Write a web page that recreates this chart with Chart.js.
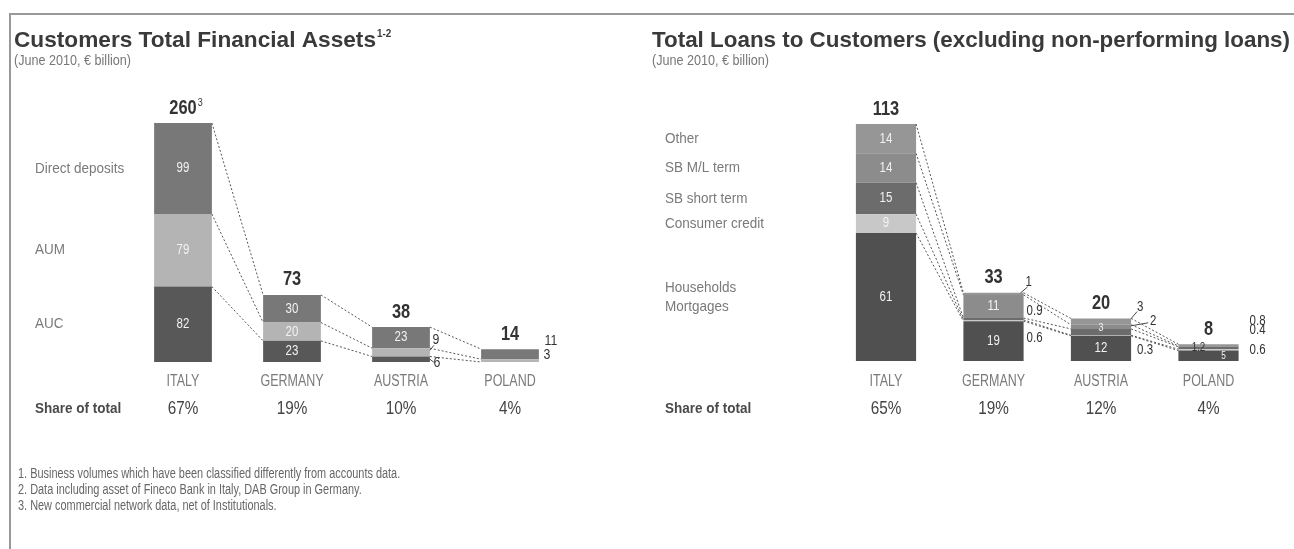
<!DOCTYPE html>
<html>
<head>
<meta charset="utf-8">
<script src="https://cdn.jsdelivr.net/npm/chart.js@4.4.1/dist/chart.umd.min.js"></script>
<style>
  html, body { margin: 0; padding: 0; background: #fff; }
  #page { position: relative; width: 1294px; height: 549px; overflow: hidden; }
  #frame { position: absolute; left: 9px; top: 13px; width: 1400px; height: 700px;
           border-left: 2px solid #999; border-top: 2px solid #999; }
  #left { position: absolute; left: 0; top: 0; }
  #right { position: absolute; left: 640px; top: 0; }
</style>
</head>
<body>
<div id="page">
  <div id="frame"></div>
  <canvas id="left" width="640" height="549"></canvas>
  <canvas id="right" width="654" height="549"></canvas>
</div>
<script>
// countries shared by both panels
const countries = ['ITALY', 'GERMANY', 'AUSTRIA', 'POLAND'];

// financial assets, € billion (bottom to top of each stack)
const auc = [82, 23, 6, 0];
const aum = [79, 20, 9, 3];
const directDeposits = [99, 30, 23, 11];
const assetShare = ['67%', '19%', '10%', '4%'];
const assetTotalNotes = ['3', '', '', ''];
const assetMax = 260;

// loans to customers, € billion (bottom to top of each stack)
const mortgages = [61, 19, 12, 5];
const consumerCredit = [9, 0.6, 0.3, 0.6];
const sbShortTerm = [15, 0.9, 3, 1.2];
const sbMedLongTerm = [14, 11, 2, 0.4];
const otherLoans = [14, 1, 3, 0.8];
const loanShare = ['65%', '19%', '12%', '4%'];
const loanMax = 113;

const footnotes = [
  '1. Business volumes which have been classified differently from accounts data.',
  '2. Data including asset of Fineco Bank in Italy, DAB Group in Germany.',
  '3. New commercial network data, net of Institutionals.'
];

const SANS = '"Liberation Sans", Arial, sans-serif';

function drawText(ctx, str, x, y, font, color, align, sx) {
  ctx.save();
  ctx.font = font;
  ctx.fillStyle = color;
  ctx.textBaseline = 'middle';
  ctx.textAlign = align || 'left';
  ctx.translate(x, y);
  ctx.scale(sx || 1, 1);
  ctx.fillText(str, 0, 0);
  ctx.restore();
}

function textWidth(ctx, str, font) {
  ctx.save();
  ctx.font = font;
  const w = ctx.measureText(str).width;
  ctx.restore();
  return w;
}

function line(ctx, x1, y1, x2, y2, color, width, dash) {
  ctx.save();
  ctx.strokeStyle = color;
  ctx.lineWidth = width;
  ctx.setLineDash(dash || []);
  ctx.beginPath();
  ctx.moveTo(x1, y1);
  ctx.lineTo(x2, y2);
  ctx.stroke();
  ctx.restore();
}

// titles, labels, totals, connectors and footnotes for one panel
function panelPlugin(cfg) {
  return {
    id: 'panel',
    afterDatasetsDraw(chart) {
      const ctx = chart.ctx;
      const ox = cfg.offsetX;
      const sets = chart.data.datasets;
      const metas = sets.map((d, i) => chart.getDatasetMeta(i).data);

      // title
      const tFont = 'bold 22px ' + SANS;
      const tsx = cfg.titleWidth / textWidth(ctx, cfg.title, tFont);
      drawText(ctx, cfg.title, cfg.titleX - ox, 41, tFont, '#3a3a3a', 'left', tsx);
      if (cfg.titleSup) {
        const tx = cfg.titleX - ox + textWidth(ctx, cfg.title, tFont) * tsx + 1;
        drawText(ctx, cfg.titleSup, tx, 34, 'bold 11px ' + SANS, '#3a3a3a', 'left', 0.9);
      }
      drawText(ctx, cfg.subtitle, cfg.titleX - ox, 61, '15px ' + SANS, '#777', 'left', 0.84);

      // dashed connectors between neighbouring bars
      for (let d = 0; d < sets.length; d++) {
        for (let i = 0; i < countries.length - 1; i++) {
          const a = metas[d][i], b = metas[d][i + 1];
          line(ctx, a.x + a.width / 2, a.y, b.x - b.width / 2, b.y, '#555', 1, [2, 2]);
        }
      }

      // segment values
      for (let d = 0; d < sets.length; d++) {
        for (let i = 0; i < countries.length; i++) {
          const v = sets[d].data[i];
          if (!v) continue;
          const bar = metas[d][i];
          const cy = (bar.y + bar.base) / 2;
          const p = cfg.placement[d + ':' + i];
          if (p && p.out) {
            const rx = bar.x + bar.width / 2;
            if (p.leader) {
              const L = p.leader;
              line(ctx, rx + L[0], cy + L[1], rx + L[2], cy + L[3], '#333', 0.9);
            }
            drawText(ctx, String(v), rx + p.dx, cy + p.dy, (p.size || 15) + 'px ' + SANS, '#333', 'center', 0.82);
          } else {
            const dx = p ? p.dx || 0 : 0;
            const dy = p ? p.dy || 0 : 0;
            const col = p && p.color ? p.color : '#f2f2f2';
            drawText(ctx, String(v), bar.x + dx, cy + dy, (p && p.size ? p.size : 14) + 'px ' + SANS, col, 'center', 0.82);
          }
        }
      }

      // totals above bars, country names and shares below
      for (let i = 0; i < countries.length; i++) {
        let sum = 0;
        sets.forEach(s => { sum += s.data[i]; });
        const top = metas[sets.length - 1][i].y;
        const cx = metas[0][i].x;
        const str = String(Math.round(sum));
        const f = 'bold 20px ' + SANS;
        drawText(ctx, str, cx, top - 15, f, '#333', 'center', 0.82);
        const note = cfg.totalNotes ? cfg.totalNotes[i] : '';
        if (note) {
          const w = textWidth(ctx, str, f) * 0.82;
          drawText(ctx, note, cx + w / 2 + 1, top - 20, '10px ' + SANS, '#333', 'left', 0.9);
        }
        drawText(ctx, countries[i], cx, 382, '16px ' + SANS, '#7a7a7a', 'center', 0.78);
        drawText(ctx, cfg.share[i], cx, 409, '18px ' + SANS, '#444', 'center', 0.85);
      }

      // series names beside the first bar
      for (let d = 0; d < sets.length; d++) {
        const bar = metas[d][0];
        const cy = (bar.y + bar.base) / 2;
        const rows = sets[d].label.split('\n');
        rows.forEach((r, k) => {
          const y = cy + (k - (rows.length - 1) / 2) * 19;
          drawText(ctx, r, cfg.labelX - ox, y, '15px ' + SANS, '#7a7a7a', 'left', 0.9);
        });
      }
      drawText(ctx, 'Share of total', cfg.labelX - ox, 409, 'bold 15px ' + SANS, '#4a4a4a', 'left', 0.9);

      if (cfg.footnotes) {
        cfg.footnotes.forEach((t, k) => {
          drawText(ctx, t, 18 - ox, 474 + k * 16, '14px ' + SANS, '#666', 'left', 0.78);
        });
      }
    }
  };
}

function stackedBars(canvasId, datasets, max, padding, barPct, cfg) {
  return new Chart(document.getElementById(canvasId), {
    type: 'bar',
    data: { labels: countries, datasets: datasets },
    options: {
      responsive: false,
      animation: false,
      layout: { padding: padding },
      plugins: { legend: { display: false }, tooltip: { enabled: false } },
      datasets: { bar: { barPercentage: barPct, categoryPercentage: 1, borderWidth: 0 } },
      scales: {
        x: { display: false, stacked: true },
        y: { display: false, stacked: true, min: 0, max: max }
      }
    },
    plugins: [panelPlugin(cfg)]
  });
}

stackedBars('left', [
  { label: 'AUC', data: auc, backgroundColor: '#585858' },
  { label: 'AUM', data: aum, backgroundColor: '#b4b4b4' },
  { label: 'Direct deposits', data: directDeposits, backgroundColor: '#787878' }
], assetMax, { left: 128.5, right: 75.5, top: 123, bottom: 187 }, 0.53, {
  offsetX: 0,
  title: 'Customers Total Financial Assets',
  titleSup: '1-2',
  titleX: 14,
  titleWidth: 362,
  subtitle: '(June 2010, \u20ac billion)',
  labelX: 35,
  share: assetShare,
  totalNotes: assetTotalNotes,
  footnotes: footnotes,
  placement: {
    '1:2': { out: true, dx: 6, dy: -12, leader: [0, -2, 4, -7] },
    '0:2': { out: true, dx: 7, dy: 4, leader: [0, 0, 4, 3] },
    '2:3': { out: true, dx: 12, dy: -13 },
    '1:3': { out: true, dx: 8, dy: -5.5 }
  }
});

stackedBars('right', [
  { label: 'Households\nMortgages', data: mortgages, backgroundColor: '#505050' },
  { label: 'Consumer credit', data: consumerCredit, backgroundColor: '#c8c8c8' },
  { label: 'SB short term', data: sbShortTerm, backgroundColor: '#6c6c6c' },
  { label: 'SB M/L term', data: sbMedLongTerm, backgroundColor: '#8c8c8c' },
  { label: 'Other', data: otherLoans, backgroundColor: '#969696' }
], loanMax, { left: 192.25, right: 31.75, top: 124, bottom: 188 }, 0.56, {
  offsetX: 640,
  title: 'Total Loans to Customers (excluding non-performing loans)',
  titleX: 652,
  titleWidth: 638,
  subtitle: '(June 2010, \u20ac billion)',
  labelX: 665,
  share: loanShare,
  placement: {
    '4:1': { out: true, dx: 5, dy: -12, leader: [-3, -1, 4, -7], size: 14 },
    '2:1': { out: true, dx: 11, dy: -8, size: 14 },
    '1:1': { out: true, dx: 11, dy: 17.5, size: 14 },
    '4:2': { out: true, dx: 9, dy: -14.5, leader: [0, -3, 6, -10], size: 14 },
    '3:2': { out: true, dx: 22, dy: -6, leader: [0, -1, 17, -4], size: 14 },
    '2:2': { size: 11, dy: -4 },
    '1:2': { out: true, dx: 14, dy: 14.5, size: 14 },
    '4:3': { out: true, dx: 19, dy: -24, size: 14 },
    '3:3': { out: true, dx: 19, dy: -16, size: 14 },
    '1:3': { out: true, dx: 19, dy: 0, size: 14 },
    '2:3': { dx: -10, color: '#333', size: 12 },
    '0:3': { dx: 15, size: 10 }
  }
});
</script>
</body>
</html>
